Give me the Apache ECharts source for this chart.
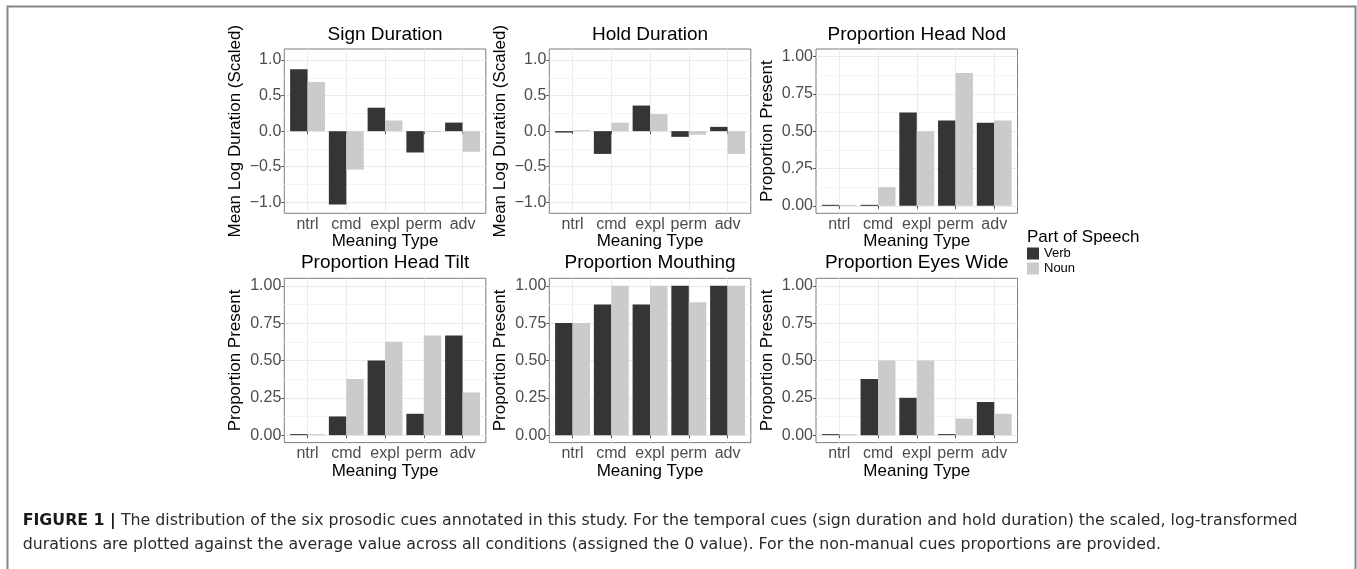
<!DOCTYPE html>
<html>
<head>
<meta charset="utf-8">
<script src="https://cdn.jsdelivr.net/npm/echarts@6/dist/echarts.min.js"></script>
<style>
  html, body { margin: 0; padding: 0; background: #ffffff; }
  #chart { width: 1357px; height: 569px; }
</style>
</head>
<body>
<div id="chart"></div>
<script>
// data
const categories = ['ntrl', 'cmd', 'expl', 'perm', 'adv'];
const seriesNames = ['Verb', 'Noun'];

const signDurationVerb = [0.87, -1.03, 0.33, -0.30, 0.12];
const signDurationNoun = [0.69, -0.54, 0.15, -0.01, -0.29];
const holdDurationVerb = [-0.02, -0.32, 0.36, -0.08, 0.06];
const holdDurationNoun = [0.01, 0.12, 0.24, -0.05, -0.32];
const headNodVerb = [0, 0, 0.625, 0.571, 0.556];
const headNodNoun = [0, 0.125, 0.5, 0.889, 0.571];
const headTiltVerb = [0, 0.125, 0.5, 0.143, 0.667];
const headTiltNoun = [0, 0.375, 0.625, 0.667, 0.286];
const mouthingVerb = [0.75, 0.875, 0.875, 1, 1];
const mouthingNoun = [0.75, 1, 1, 0.889, 1];
const eyesWideVerb = [0, 0.375, 0.25, 0, 0.222];
const eyesWideNoun = [0, 0.5, 0.5, 0.111, 0.143];

const durationTicks = [-1, -0.5, 0, 0.5, 1];
const durationMinor = [-0.75, -0.25, 0.25, 0.75];
const proportionTicks = [0, 0.25, 0.5, 0.75, 1];
const proportionMinor = [0.125, 0.375, 0.625, 0.875];

const panels = [
  { title: 'Sign Duration', verb: signDurationVerb, noun: signDurationNoun, kind: 'duration' },
  { title: 'Hold Duration', verb: holdDurationVerb, noun: holdDurationNoun, kind: 'duration' },
  { title: 'Proportion Head Nod', verb: headNodVerb, noun: headNodNoun, kind: 'proportion' },
  { title: 'Proportion Head Tilt', verb: headTiltVerb, noun: headTiltNoun, kind: 'proportion' },
  { title: 'Proportion Mouthing', verb: mouthingVerb, noun: mouthingNoun, kind: 'proportion' },
  { title: 'Proportion Eyes Wide', verb: eyesWideVerb, noun: eyesWideNoun, kind: 'proportion' }
];

const kinds = {
  duration: { min: -1.155, max: 1.155, ticks: durationTicks, minor: durationMinor, digits: 1, name: 'Mean Log Duration (Scaled)' },
  proportion: { min: -0.05, max: 1.05, ticks: proportionTicks, minor: proportionMinor, digits: 2, name: 'Proportion Present' }
};

// layout of the 2 x 3 panels, in pixels
const colLeft = [284.3, 549.3, 816];
const rowTop = [49, 278.3];
const panelWidth = 201.5;
const panelHeight = 164.3;

const font = '"Liberation Sans", Arial, sans-serif';
const captionFont = '"DejaVu Sans", sans-serif';
const verbColor = '#353535';
const nounColor = '#cbcbcb';
const tickText = '#4d4d4d';

const categoryPositions = categories.map((c, k) => k + 1);

function buildOption() {
  let grids = [], xAxes = [], yAxes = [], series = [], titles = [];

  panels.forEach((p, i) => {
    let k = kinds[p.kind];
    let left = colLeft[i % 3];
    let top = rowTop[Math.floor(i / 3)];

    grids.push({
      left: left, top: top, width: panelWidth, height: panelHeight,
      show: true, borderColor: '#7d7d7d', borderWidth: 1, backgroundColor: '#ffffff'
    });

    titles.push({
      text: p.title,
      left: left + panelWidth / 2,
      top: top - (i < 3 ? 23.5 : 24.8),
      textAlign: 'center',
      padding: 0,
      textStyle: { fontSize: 19, fontWeight: 'normal', color: '#000000', fontFamily: font }
    });

    xAxes.push({
      type: 'value', gridIndex: i, min: 0.4, max: 5.6,
      axisLine: { show: false },
      axisTick: { show: true, length: 3, customValues: categoryPositions, lineStyle: { color: '#555555' } },
      axisLabel: {
        customValues: categoryPositions,
        formatter: v => categories[Math.round(v) - 1],
        fontSize: 16, color: tickText, margin: 3, fontFamily: font
      },
      splitLine: { show: true, lineStyle: { color: '#ebebeb' } },
      name: 'Meaning Type', nameLocation: 'middle', nameGap: 16,
      nameTextStyle: { fontSize: 17, color: '#000000', fontFamily: font }
    });

    yAxes.push({
      type: 'value', gridIndex: i, min: k.min, max: k.max, position: 'left',
      axisLine: { show: false },
      axisTick: { show: true, length: 3, customValues: k.ticks, lineStyle: { color: '#555555' } },
      axisLabel: {
        customValues: k.ticks,
        formatter: v => v.toFixed(k.digits).replace('-', '\u2212'),
        fontSize: 16, color: tickText, margin: 3, fontFamily: font
      },
      splitLine: { show: true, lineStyle: { color: '#ebebeb' } },
      name: k.name, nameLocation: 'middle', nameGap: 40,
      nameTextStyle: { fontSize: 17, color: '#000000', fontFamily: font }
    });
    // minor grid lines only
    yAxes.push({
      type: 'value', gridIndex: i, min: k.min, max: k.max, position: 'left',
      axisLine: { show: false },
      axisTick: { show: false, customValues: k.minor },
      axisLabel: { show: false },
      splitLine: { show: true, lineStyle: { color: '#f4f4f4' } }
    });

    [p.verb, p.noun].forEach((vals, s) => {
      series.push({
        type: 'bar',
        name: seriesNames[s],
        xAxisIndex: i,
        yAxisIndex: 2 * i,
        data: vals.map((v, c) => [categoryPositions[c], v]),
        barGap: '0%',
        barCategoryGap: '10%',
        barMinHeight: 1,
        itemStyle: { color: s === 0 ? verbColor : nounColor },
        emphasis: { disabled: true }
      });
    });
  });

  return {
    animation: false,
    backgroundColor: '#ffffff',
    textStyle: { fontFamily: font },
    title: titles,
    grid: grids,
    xAxis: xAxes,
    yAxis: yAxes,
    series: series,
    legend: {
      data: seriesNames,
      orient: 'vertical',
      left: 1027, top: 247,
      itemWidth: 12, itemHeight: 12, itemGap: 2,
      icon: 'rect', padding: 0,
      textStyle: { fontSize: 13, color: '#000000', fontFamily: font }
    },
    graphic: [
      {
        type: 'rect', silent: true,
        shape: { x: 7.5, y: 6.5, width: 1348, height: 620 },
        style: { fill: 'none', stroke: '#858585', lineWidth: 2 }
      },
      {
        type: 'text', silent: true, x: 1027, y: 237.7,
        style: { text: 'Part of Speech', fill: '#000000', font: '17px ' + font, textVerticalAlign: 'middle' }
      },
      {
        type: 'rect', silent: true, z: 100,
        shape: { x: 798, y: 170, width: 17, height: 13 },
        style: { fill: '#ffffff' }
      },
      {
        type: 'text', silent: true, x: 22.7, y: 521,
        style: {
          text: '{b|FIGURE 1 |} The distribution of the six prosodic cues annotated in this study. For the temporal cues (sign duration and hold duration) the scaled, log-transformed',
          rich: { b: { fontWeight: 'bold', fontSize: 15.8, fontFamily: captionFont, fill: '#1a1a1a' } },
          fill: '#2a2a2a', font: '15.8px ' + captionFont, textVerticalAlign: 'middle'
        }
      },
      {
        type: 'text', silent: true, x: 22.7, y: 545,
        style: {
          text: 'durations are plotted against the average value across all conditions (assigned the 0 value). For the non-manual cues proportions are provided.',
          fill: '#2a2a2a', font: '15.8px ' + captionFont, textVerticalAlign: 'middle'
        }
      }
    ]
  };
}

document.addEventListener('DOMContentLoaded', () => {
  let chartDom = document.querySelector('#chart');
  let myChart = echarts.init(chartDom);
  myChart.setOption(buildOption());
});
</script>
</body>
</html>
